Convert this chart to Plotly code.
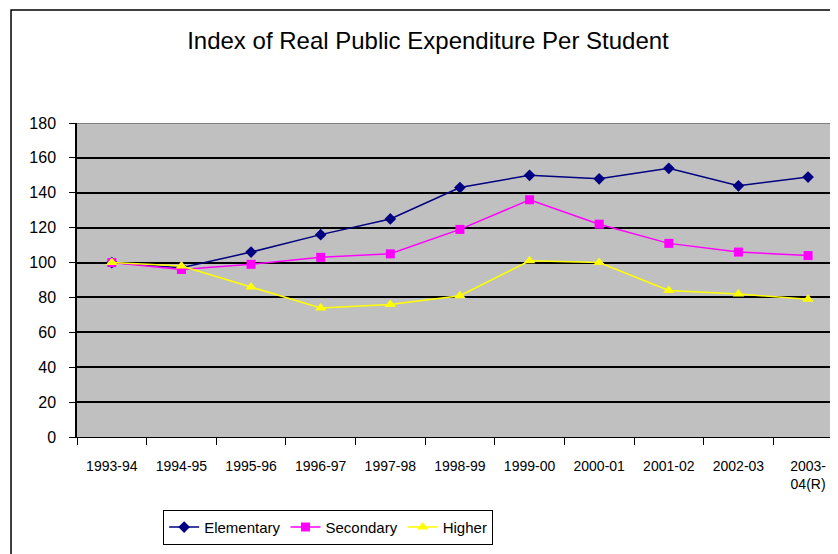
import plotly.graph_objects as go

years = ["1993-94", "1994-95", "1995-96", "1996-97", "1997-98", "1998-99",
         "1999-00", "2000-01", "2001-02", "2002-03", "2003-<br>04(R)"]
elementary = [100, 97, 106, 116, 125, 143, 150, 148, 154, 144, 149]
secondary = [100, 96, 99, 103, 105, 119, 136, 122, 111, 106, 104]
higher = [100, 98, 86, 74, 76, 81, 101, 100, 84, 82, 79]

FONT = "Liberation Sans Narrow, Arial Narrow, Liberation Sans, Arial"

fig = go.Figure()
fig.add_trace(go.Scatter(x=years, y=elementary, name="Elementary", mode="lines+markers",
                         line=dict(color="#000080", width=1.5),
                         marker=dict(symbol="diamond", size=9, color="#000080")))
fig.add_trace(go.Scatter(x=years, y=secondary, name="Secondary", mode="lines+markers",
                         line=dict(color="#FF00FF", width=1.5),
                         marker=dict(symbol="square", size=9, color="#FF00FF")))
fig.add_trace(go.Scatter(x=years, y=higher, name="Higher", mode="lines+markers",
                         line=dict(color="#FFFF00", width=1.5),
                         marker=dict(symbol="triangle-up", size=10, color="#FFFF00")))

# page has an 8px body margin, so the figure is sized to fit inside it
fig.update_layout(
    width=830, height=546,
    margin=dict(l=69, r=0, t=115, b=117),
    paper_bgcolor="white",
    plot_bgcolor="#C0C0C0",
    font=dict(family=FONT, color="black"),
    title=dict(text="Index of Real Public Expenditure Per Student",
               x=0.506, xanchor="center", y=0.941, yanchor="middle",
               font=dict(size=24, family=FONT)),
    xaxis=dict(type="category", range=[-0.5, 10.43], tickson="boundaries",
               ticks="outside", ticklen=7, tickcolor="black", showline=True,
               linecolor="black", linewidth=1, showgrid=False,
               tickfont=dict(size=14), ticklabelstandoff=16, automargin=False,
               fixedrange=True),
    yaxis=dict(range=[0, 180], dtick=20, ticks="outside", ticklen=6,
               tickcolor="black", showline=True, linecolor="black", linewidth=1.5,
               gridcolor="black", gridwidth=1.5, zeroline=False, automargin=False,
               tickfont=dict(size=16), ticklabelstandoff=10),
    showlegend=True,
    legend=dict(orientation="h", x=0.33, xanchor="center", y=-0.232, yanchor="top",
                bordercolor="black", borderwidth=1, bgcolor="white",
                font=dict(size=15, family=FONT), itemwidth=30, traceorder="normal"),
    shapes=[
        dict(type="line", xref="paper", yref="y", x0=0, x1=1, y0=180, y1=180,
             line=dict(color="#808080", width=2)),
        dict(type="rect", xref="paper", yref="paper", x0=-0.0867, x1=1.2,
             y0=-0.6, y1=1.36, line=dict(color="black", width=1.5),
             layer="below"),
    ],
)

fig.write_html("out.html")
